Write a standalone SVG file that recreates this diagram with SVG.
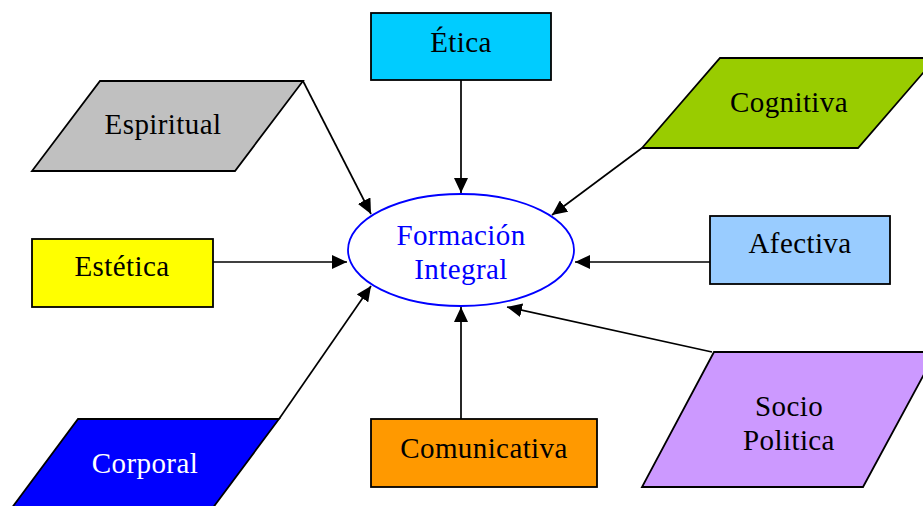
<svg xmlns="http://www.w3.org/2000/svg" width="923" height="506" viewBox="0 0 923 506">
<style>
.box{stroke:#000;stroke-width:1.8}
.t{font-family:"Liberation Serif","Times New Roman",serif;font-size:29px;letter-spacing:0.4px;text-anchor:middle;fill:#000}
.c{stroke:#000;stroke-width:1.7;fill:none;marker-end:url(#ah)}
</style>
<defs>
<marker id="ah" markerUnits="userSpaceOnUse" markerWidth="16" markerHeight="14" refX="15" refY="7" orient="auto" viewBox="0 0 16 14">
<path d="M0,0 L15,7 L0,14 z" fill="#000"/>
</marker>
</defs>
<rect width="923" height="506" fill="#fff"/>
<g id="connectors">
<line class="c" x1="461" y1="80" x2="461" y2="193"/>
<line class="c" x1="303" y1="81" x2="371" y2="214"/>
<line class="c" x1="642" y1="148" x2="552" y2="215"/>
<line class="c" x1="213" y1="262" x2="347" y2="262"/>
<line class="c" x1="710" y1="262" x2="575" y2="262"/>
<line class="c" x1="279" y1="419" x2="371" y2="286"/>
<line class="c" x1="461" y1="419" x2="461" y2="307"/>
<line class="c" x1="712" y1="352" x2="507" y2="307"/>
</g>
<g id="etica">
<rect class="box" x="371" y="13" width="180" height="67" fill="#00CCFF"/>
<text class="t" x="461" y="52">Ética</text>
</g>
<g id="espiritual">
<polygon class="box" points="100,81 303,81 235,171 32,171" fill="#C0C0C0"/>
<text class="t" x="163" y="134">Espiritual</text>
</g>
<g id="cognitiva">
<polygon class="box" points="720,58 936,58 858,148 642,148" fill="#99CC00"/>
<text class="t" x="789" y="112">Cognitiva</text>
</g>
<g id="estetica">
<rect class="box" x="32" y="239" width="181" height="68" fill="#FFFF00"/>
<text class="t" x="122" y="276">Estética</text>
</g>
<g id="afectiva">
<rect class="box" x="710" y="216" width="180" height="68" fill="#99CCFF"/>
<text class="t" x="800" y="253">Afectiva</text>
</g>
<g id="formacion">
<ellipse cx="461" cy="250" rx="113" ry="56" fill="#fff" stroke="#0000FF" stroke-width="1.8"/>
<text class="t" x="461" y="245" style="fill:#0000FF">Formación</text>
<text class="t" x="461" y="279" style="fill:#0000FF">Integral</text>
</g>
<g id="corporal">
<polygon class="box" points="78,419 279,419 212,509 11,509" fill="#0000FF"/>
<text class="t" x="145" y="473" style="fill:#fff">Corporal</text>
</g>
<g id="comunicativa">
<rect class="box" x="371" y="419" width="226" height="68" fill="#FF9900"/>
<text class="t" x="484" y="458">Comunicativa</text>
</g>
<g id="sociopolitica">
<polygon class="box" points="714,352 936,352 863,487 642,487" fill="#CC99FF"/>
<text class="t" x="789" y="416">Socio</text>
<text class="t" x="789" y="450">Politica</text>
</g>
</svg>
